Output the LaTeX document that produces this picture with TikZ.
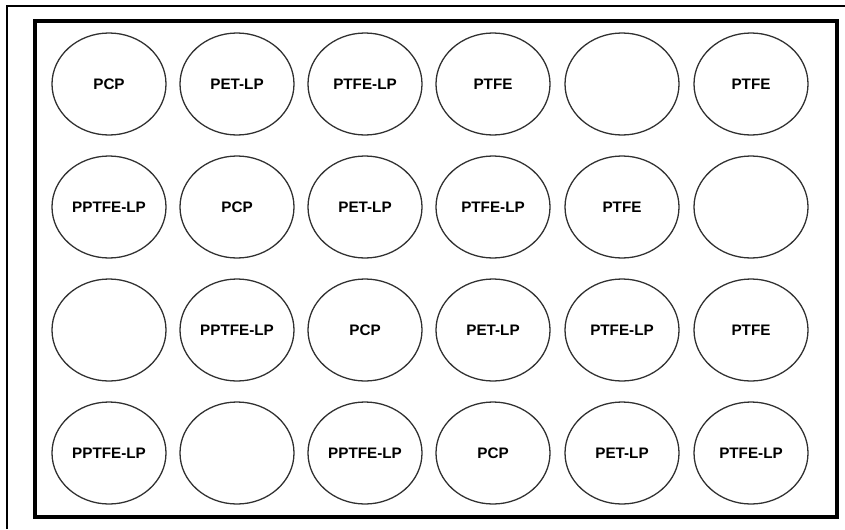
\documentclass[tikz,border=0pt]{standalone}
\usepackage{fontspec}
\setmainfont{Liberation Sans}
\usetikzlibrary{shapes.geometric}
\definecolor{wellstroke}{HTML}{303030}

\begin{document}
\begin{tikzpicture}[
    x=0.03cm, y=-0.03cm,
    every node/.style={font=\bfseries\fontsize{13}{15}\selectfont},
    well/.style={ellipse, draw=wellstroke, line width=1.1pt, minimum width=3.42cm, minimum height=3.06cm, inner sep=0pt},
    plate/.style={draw=black, line width=3.2pt},
    frameline/.style={draw=black, line width=0.9pt}
]
\useasboundingbox (0,0) rectangle (845,529);

% outer frame and plate
\draw[frameline] (7,529) -- (7,6) -- (845,6);
\draw[plate] (35,21) rectangle (837,517);

% row 1
\node[well] (w11) at (109,84) {PCP};
\node[well] (w12) at (237,84) {PET-LP};
\node[well] (w13) at (365,84) {PTFE-LP};
\node[well] (w14) at (493,84) {PTFE};
\node[well] (w15) at (622,84) {};
\node[well] (w16) at (751,84) {PTFE};

% row 2
\node[well] (w21) at (109,207) {PPTFE-LP};
\node[well] (w22) at (237,207) {PCP};
\node[well] (w23) at (365,207) {PET-LP};
\node[well] (w24) at (493,207) {PTFE-LP};
\node[well] (w25) at (622,207) {PTFE};
\node[well] (w26) at (751,207) {};

% row 3
\node[well] (w31) at (109,330) {};
\node[well] (w32) at (237,330) {PPTFE-LP};
\node[well] (w33) at (365,330) {PCP};
\node[well] (w34) at (493,330) {PET-LP};
\node[well] (w35) at (622,330) {PTFE-LP};
\node[well] (w36) at (751,330) {PTFE};

% row 4
\node[well] (w41) at (109,453) {PPTFE-LP};
\node[well] (w42) at (237,453) {};
\node[well] (w43) at (365,453) {PPTFE-LP};
\node[well] (w44) at (493,453) {PCP};
\node[well] (w45) at (622,453) {PET-LP};
\node[well] (w46) at (751,453) {PTFE-LP};

\end{tikzpicture}
\end{document}
